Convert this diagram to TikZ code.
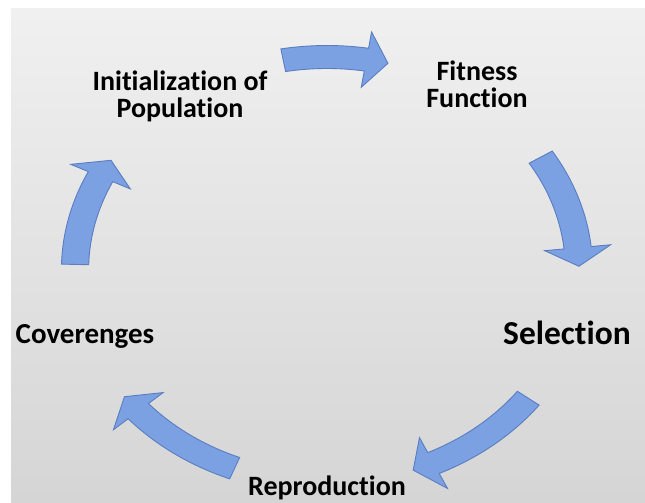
\documentclass[tikz,border=0pt]{standalone}
\usepackage{fontspec}
\setmainfont{Carlito}[Ligatures=NoCommon]
\usepackage{xcolor}
\definecolor{a1}{HTML}{7BA1E2}
\definecolor{a2}{HTML}{5A7DC2}
\definecolor{g1}{HTML}{F0F0F0}
\definecolor{g2}{HTML}{D5D5D5}
\tikzset{lbl/.style={font=\bfseries\fontsize{28}{27}\selectfont,align=center,inner sep=0}}
\tikzset{ring arrow/.style={fill=a1,draw=a2,line width=0.9pt,line join=miter}}
% one block arrow on the ring, #1 = tail angle, #2 = tip angle
\newcommand{\ringarrow}[2]{%
  \filldraw[ring arrow] (#1:224.5) arc[start angle=#1,end angle={#2+5},radius=224.5]
    -- ({#2+5}:241) -- (#2:213) -- ({#2+5}:185) -- ({#2+5}:201.5)
    arc[start angle={#2+5},end angle=#1,radius=201.5] -- cycle;}

\begin{document}
\begin{tikzpicture}[x=1pt,y=1pt]
  \useasboundingbox (0,0) rectangle (645,503);
  \fill[white] (0,0) rectangle (645,503);
  \shade[top color=g1,bottom color=g2] (11,0) rectangle (645,494);

  \begin{scope}[shift={(327,233)},xscale=1.183]
    \ringarrow{100}{76}
    \ringarrow{32}{1}
    \ringarrow{-37}{-70}
    \ringarrow{-111.5}{-143.5}
    \ringarrow{178.5}{149}
  \end{scope}

  \node[lbl] (init) at (180,407) {Initialization of\\Population};
  \node[lbl] (fit) at (477,419) {Fitness\\Function};
  \node[lbl,font=\bfseries\fontsize{33.5}{34}\selectfont] (sel) at (567,170) {Selection};
  \node[lbl] (rep) at (327,15) {Reproduction};
  \node[lbl,font=\bfseries\fontsize{29}{29}\selectfont] (cov) at (85,167) {Coverenges};
\end{tikzpicture}
\end{document}
